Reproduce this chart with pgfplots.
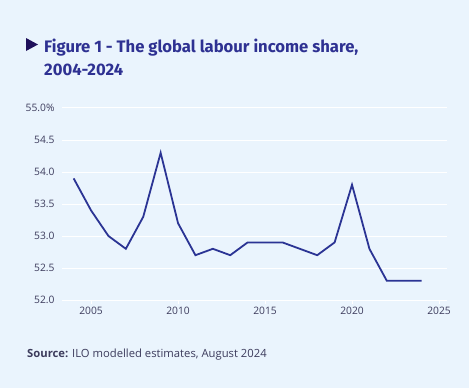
\documentclass[border=0pt]{standalone}
\usepackage{pgfplots}
\pgfplotsset{compat=1.18}
\usepackage{fontspec}
\setmainfont{Open Sans}
\newfontfamily\titlefont{Fira Sans}
\definecolor{bg}{HTML}{EAF4FD}
\definecolor{titleblue}{HTML}{2E3192}
\definecolor{tri}{HTML}{1E0F5A}
\definecolor{linec}{HTML}{2B3494}
\definecolor{labc}{HTML}{3C3B5C}
\begin{document}
\begin{tikzpicture}[x=1bp,y=1bp]
\fill[bg] (0,0) rectangle (469,388);
\fill[tri] (26,337) -- (26,350) -- (38,343.5) -- cycle;
\node[anchor=base west, inner sep=0, text=titleblue, font=\titlefont\bfseries\fontsize{16.7}{20}\selectfont] at (44,336) {Figure 1 - The global labour income share,};
\node[anchor=base west, inner sep=0, text=titleblue, font=\titlefont\bfseries\fontsize{16.7}{20}\selectfont] at (44,313) {2004-2024};
\node[anchor=base west, inner sep=0, text=labc, font=\fontsize{11.3}{13}\selectfont] at (27,31) {\textbf{Source:} ILO modelled estimates, August 2024};
\begin{axis}[
  at={(62bp,88bp)}, anchor=south west,
  scale only axis, width=385bp, height=192bp,
  xmin=2003.33, xmax=2025.46, ymin=52, ymax=55,
  axis line style={draw=none},
  ymajorgrids, grid style={white, line width=1bp},
  xtick={2005,2010,2015,2020,2025},
  xticklabels={2005,2010,2015,2020,2025},
  ytick={52,52.5,53,53.5,54,54.5,55},
  yticklabels={52.0,52.5,53.0,53.5,54.0,54.5,55.0\%},
  xtick pos=bottom, tick align=outside, major tick length=4bp,
  xtick style={white, line width=1bp},
  ytick style={draw=none},
  tick label style={text=labc, font=\fontsize{10.3}{12}\selectfont},
  clip=false,
]
\addplot[linec, line width=1.8bp] coordinates {
(2004,53.9) (2005,53.4) (2006,53.0) (2007,52.8) (2008,53.3) (2009,54.3)
(2010,53.2) (2011,52.7) (2012,52.8) (2013,52.7) (2014,52.9) (2015,52.9)
(2016,52.9) (2017,52.8) (2018,52.7) (2019,52.9) (2020,53.8) (2021,52.8)
(2022,52.3) (2023,52.3) (2024,52.3)
};
\end{axis}
\end{tikzpicture}
\end{document}
